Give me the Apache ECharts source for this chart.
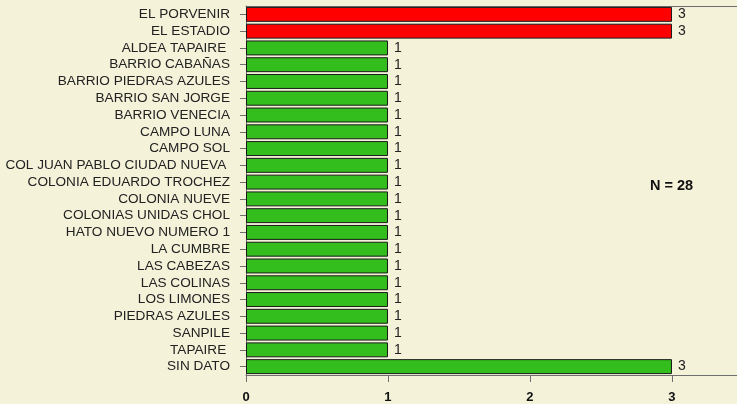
<!DOCTYPE html>
<html>
<head>
<meta charset="utf-8">
<script src="https://cdn.jsdelivr.net/npm/echarts@6/dist/echarts.min.js"></script>
<style>
  html, body { margin: 0; padding: 0; background: #F5F2DA; }
  #chart { width: 737px; height: 404px; }
</style>
</head>
<body>
<div id="chart"></div>
<script>
// barrios, de arriba hacia abajo
const categories = [
  'EL PORVENIR', 'EL ESTADIO', 'ALDEA TAPAIRE ', 'BARRIO CABAÑAS',
  'BARRIO PIEDRAS AZULES', 'BARRIO SAN JORGE', 'BARRIO VENECIA', 'CAMPO LUNA',
  'CAMPO SOL', 'COL JUAN PABLO CIUDAD NUEVA ', 'COLONIA EDUARDO TROCHEZ', 'COLONIA NUEVE',
  'COLONIAS UNIDAS CHOL', 'HATO NUEVO NUMERO 1', 'LA CUMBRE', 'LAS CABEZAS',
  'LAS COLINAS', 'LOS LIMONES', 'PIEDRAS AZULES', 'SANPILE', 'TAPAIRE ', 'SIN DATO'
];
const counts = [3, 3, 1, 1, 1, 1, 1, 1, 1, 1, 1, 1, 1, 1, 1, 1, 1, 1, 1, 1, 1, 3];
const highlighted = [true, true, false, false, false, false, false, false, false, false, false,
  false, false, false, false, false, false, false, false, false, false, false];
const xTicks = [0, 1, 2, 3];
const totalLabel = 'N = 28';

const RED = '#FF0000';
const GREEN = '#33BE1D';
const AXIS = '#6E6E6E';

const myChart = echarts.init(document.getElementById('chart'));

const option = {
  backgroundColor: '#F5F2DA',
  animation: false,
  grid: { left: 246, right: 0, top: 6, bottom: 29 },
  xAxis: [{
    type: 'value',
    min: 0,
    max: 3.458,
    interval: 1,
    axisLine: { show: true, lineStyle: { color: AXIS, width: 1 } },
    axisTick: { show: true, length: 7, lineStyle: { color: AXIS }, customValues: xTicks },
    axisLabel: {
      customValues: xTicks,
      margin: 16,
      fontFamily: 'Liberation Sans, Arial',
      fontWeight: 'bold',
      fontSize: 13,
      color: '#111'
    },
    splitLine: { show: false }
  }, {
    // linea superior del marco
    type: 'value',
    position: 'top',
    min: 0,
    max: 3.458,
    axisLine: { show: true, lineStyle: { color: AXIS, width: 1 } },
    axisTick: { show: false },
    axisLabel: { show: false },
    splitLine: { show: false }
  }],
  yAxis: {
    type: 'category',
    inverse: true,
    data: categories,
    axisLine: { show: true, lineStyle: { color: AXIS, width: 1 } },
    axisTick: { show: true, length: 6, alignWithLabel: true, lineStyle: { color: AXIS } },
    axisLabel: {
      margin: 16,
      interval: 0,
      fontFamily: 'Liberation Sans, Arial',
      fontSize: 13.6,
      color: '#222'
    }
  },
  series: [{
    type: 'bar',
    xAxisIndex: 0,
    barCategoryGap: '11%',
    data: counts.map((v, i) => ({
      value: v,
      itemStyle: { color: highlighted[i] ? RED : GREEN }
    })),
    itemStyle: { borderColor: '#1a1a1a', borderWidth: 1 },
    label: {
      show: true,
      position: 'right',
      distance: 6,
      fontFamily: 'Liberation Sans, Arial',
      fontSize: 14,
      color: '#222'
    }
  }],
  graphic: [{
    type: 'text',
    left: 650,
    top: 178,
    style: {
      text: totalLabel,
      font: 'bold 14.5px "Liberation Sans", Arial',
      fill: '#111'
    }
  }]
};

myChart.setOption(option);
</script>
</body>
</html>
